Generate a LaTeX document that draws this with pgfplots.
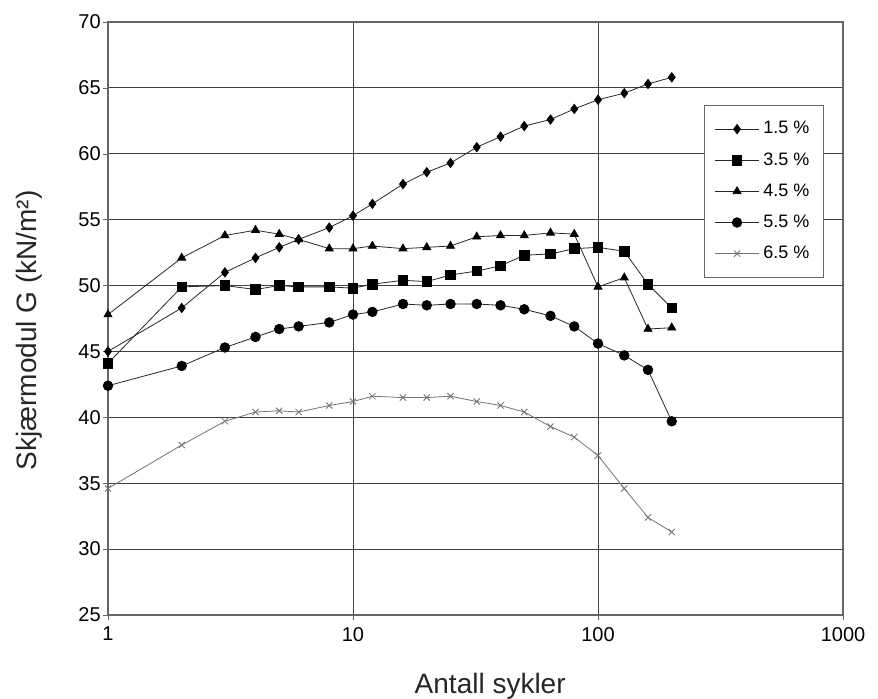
\documentclass[border=0pt]{standalone}
\usepackage{fontspec}
\setmainfont{Liberation Sans}
\usepackage{pgfplots}
\usepackage{pgfplotstable}
\pgfplotsset{compat=1.18}

\pgfplotstableread{
n   s15  s35  s45  s55  s65
1   45.0 44.1 47.8 42.4 34.6
2   48.3 49.9 52.1 43.9 37.9
3   51.0 50.0 53.8 45.3 39.7
4   52.1 49.7 54.2 46.1 40.4
5   52.9 50.0 53.9 46.7 40.5
6   53.5 49.9 53.5 46.9 40.4
8   54.4 49.9 52.8 47.2 40.9
10  55.3 49.8 52.8 47.8 41.2
12  56.2 50.1 53.0 48.0 41.6
16  57.7 50.4 52.8 48.6 41.5
20  58.6 50.3 52.9 48.5 41.5
25  59.3 50.8 53.0 48.6 41.6
32  60.5 51.1 53.7 48.6 41.2
40  61.3 51.5 53.8 48.5 40.9
50  62.1 52.3 53.8 48.2 40.4
64  62.6 52.4 54.0 47.7 39.3
80  63.4 52.8 53.9 46.9 38.5
100 64.1 52.9 49.9 45.6 37.1
128 64.6 52.6 50.6 44.7 34.6
160 65.3 50.1 46.7 43.6 32.4
200 65.8 48.3 46.8 39.7 31.3
}\cyc

\begin{document}
\begin{tikzpicture}
\begin{axis}[
  scale only axis,
  width=367.5pt, height=296.5pt,
  xmode=log, xmin=1, xmax=1000, ymin=25, ymax=70,
  xtick={1,10,100,1000}, xticklabels={1,10,100,1000},
  ytick={25,30,...,70},
  xminorticks=false, yminorticks=false,
  log ticks with fixed point,
  grid=major,
  major grid style={black!75, line width=0.5pt},
  axis line style={black!60, line width=0.6pt},
  tick align=outside, tick pos=left, major tick length=2.5pt,
  tick style={black!60},
  ticklabel style={font=\fontsize{10}{11}\selectfont},
  yticklabel style={inner xsep=1pt},
  /pgf/number format/assume math mode=true,
  xlabel={Antall sykler}, ylabel={Skjærmodul G (kN/m²)},
  label style={font=\fontsize{14}{16}\selectfont, black!85},
  xlabel style={at={(axis description cs:0.52,-0.12)}, anchor=center},
  ylabel style={at={(axis description cs:-0.107,0.48)}, anchor=center},
  legend style={at={(rel axis cs:0.974,0.86)}, anchor=north east,
    draw=black!60, fill=white, font=\fontsize{9}{10}\selectfont,
    row sep=3.8pt, inner xsep=5pt, inner ysep=6pt},
  legend cell align=left,
  legend image code/.code={\draw[mark repeat=2,mark phase=2,#1]
    plot coordinates {(0pt,0pt) (11pt,0pt) (22pt,0pt)};},
  every axis plot/.append style={line width=0.4pt},
]
\addplot[black!85, mark=diamond*, mark size=2.3pt, mark options={black}] table[x=n,y=s15] {\cyc};
\addlegendentry{1.5 \%}
\addplot[black!85, mark=square*, mark size=2.4pt, mark options={black}] table[x=n,y=s35] {\cyc};
\addlegendentry{3.5 \%}
\addplot[black!85, mark=triangle*, mark size=2.3pt, mark options={black}] table[x=n,y=s45] {\cyc};
\addlegendentry{4.5 \%}
\addplot[black!85, mark=*, mark size=2.4pt, mark options={black}] table[x=n,y=s55] {\cyc};
\addlegendentry{5.5 \%}
\addplot[black!55, mark=x, mark size=2.2pt, mark options={black!55}] table[x=n,y=s65] {\cyc};
\addlegendentry{6.5 \%}
\coordinate (bl) at (rel axis cs:0,0);
\coordinate (tr) at (rel axis cs:1,1);
\end{axis}
\pgfresetboundingbox
\path ([shift={(-54pt,-42pt)}]bl) rectangle ([shift={(17.5pt,11pt)}]tr);
\end{tikzpicture}
\end{document}
